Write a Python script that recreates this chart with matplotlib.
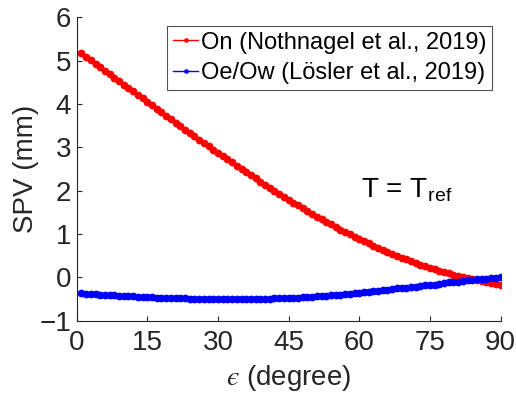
import matplotlib
matplotlib.use('Agg')
import matplotlib.pyplot as plt
import numpy as np

plt.rcParams['font.family'] = ['Liberation Sans', 'DejaVu Sans']
plt.rcParams['mathtext.fontset'] = 'cm'

# elevation angle (degree)
elev = list(range(1, 91))

# SPV On (Nothnagel et al., 2019), mm
spv_on = [5.17, 5.09, 5.01, 4.93, 4.85, 4.77, 4.69, 4.61, 4.53, 4.45,
          4.37, 4.29, 4.21, 4.13, 4.05, 3.97, 3.89, 3.81, 3.73, 3.65,
          3.57, 3.49, 3.41, 3.33, 3.25, 3.17, 3.10, 3.02, 2.94, 2.87,
          2.80, 2.72, 2.65, 2.57, 2.50, 2.43, 2.36, 2.28, 2.21, 2.14,
          2.07, 2.00, 1.93, 1.86, 1.79, 1.72, 1.66, 1.59, 1.53, 1.46,
          1.40, 1.34, 1.28, 1.22, 1.16, 1.10, 1.04, 0.99, 0.93, 0.88,
          0.83, 0.78, 0.73, 0.68, 0.63, 0.59, 0.54, 0.50, 0.45, 0.41,
          0.37, 0.33, 0.29, 0.26, 0.22, 0.19, 0.15, 0.12, 0.09, 0.06,
          0.03, 0.01, -0.02, -0.04, -0.06, -0.08, -0.11, -0.13, -0.15, -0.17]

# SPV Oe/Ow (Loesler et al., 2019), mm
spv_oe = [-0.37, -0.38, -0.38, -0.39, -0.40, -0.41, -0.41, -0.42, -0.43, -0.43,
          -0.44, -0.44, -0.45, -0.45, -0.46, -0.46, -0.47, -0.47, -0.48, -0.48,
          -0.48, -0.49, -0.49, -0.50, -0.50, -0.50, -0.50, -0.51, -0.51, -0.51,
          -0.51, -0.51, -0.51, -0.51, -0.51, -0.51, -0.51, -0.50, -0.50, -0.50,
          -0.50, -0.49, -0.49, -0.48, -0.48, -0.47, -0.47, -0.46, -0.46, -0.45,
          -0.44, -0.43, -0.43, -0.42, -0.41, -0.40, -0.39, -0.38, -0.37, -0.36,
          -0.35, -0.34, -0.32, -0.31, -0.30, -0.29, -0.28, -0.26, -0.25, -0.24,
          -0.23, -0.22, -0.20, -0.19, -0.18, -0.17, -0.15, -0.14, -0.12, -0.11,
          -0.10, -0.09, -0.07, -0.06, -0.05, -0.04, -0.03, -0.02, -0.01, 0.00]

labels = ['On (Nothnagel et al., 2019)', 'Oe/Ow (Lösler et al., 2019)']
xticks = [0, 15, 30, 45, 60, 75, 90]
yticks = [-1, 0, 1, 2, 3, 4, 5, 6]

fig = plt.figure(figsize=(5.16, 3.98), dpi=100)
ax = fig.add_axes([0.1486, 0.1947, 0.8214, 0.7616])

ax.plot(elev, spv_on, '-', color='red', lw=1, marker='o', ms=5.6, mew=0, label=labels[0])
ax.plot(elev, spv_oe, '-', color='blue', lw=1, marker='o', ms=5.6, mew=0, label=labels[1])

ax.set_xlim(0, 90)
ax.set_ylim(-1, 6)
ax.set_xticks(xticks)
ax.set_yticks(yticks)

ax.spines['top'].set_visible(False)
ax.spines['right'].set_visible(False)
for s in ['left', 'bottom']:
    ax.spines[s].set_color('#262626')
    ax.spines[s].set_linewidth(0.8)
ax.tick_params(direction='in', length=3.5, width=0.8, color='#262626',
               labelsize=20, labelcolor='#262626')
ax.tick_params(axis='x', pad=7)
ax.tick_params(axis='y', pad=4)

ax.set_xlabel('$\u03f5$ (degree)', fontsize=20, color='#262626', labelpad=5)
ax.set_ylabel('SPV (mm)', fontsize=20, color='#262626', labelpad=0)

ax.text(60.3, 1.85, r'T = T$_{\mathregular{ref}}$', fontsize=20, color='black')

leg = ax.legend(loc='upper right', fontsize=17, frameon=True, fancybox=False,
                handlelength=1.1, handletextpad=0.1, borderpad=0.25,
                labelspacing=0.35, borderaxespad=0.35, markerscale=0.6)
leg.get_frame().set_edgecolor('#262626')
leg.get_frame().set_linewidth(0.8)

fig.savefig('out.png', dpi=100)
